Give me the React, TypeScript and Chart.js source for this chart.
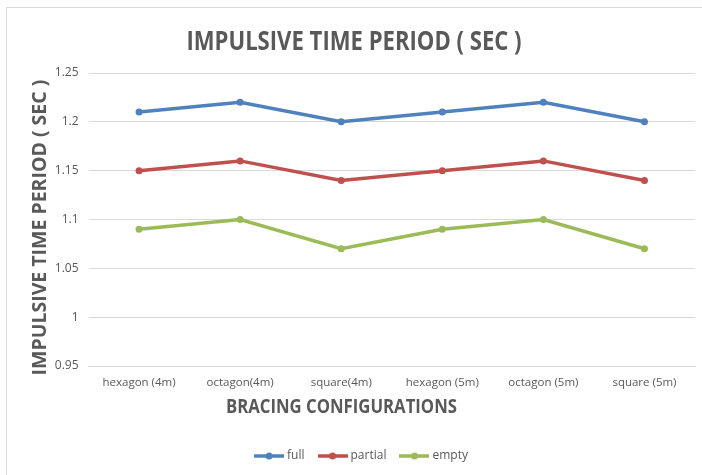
import React, { useEffect, useRef } from "react";
import { Chart, registerables } from "chart.js";

Chart.register(...registerables);

const categories = ["hexagon (4m)", "octagon(4m)", "square(4m)", "hexagon (5m)", "octagon (5m)", "square (5m)"];
const fullValues = [1.21, 1.22, 1.2, 1.21, 1.22, 1.2];
const partialValues = [1.15, 1.16, 1.14, 1.15, 1.16, 1.14];
const emptyValues = [1.09, 1.1, 1.07, 1.09, 1.1, 1.07];
const seriesNames = ["full", "partial", "empty"];
const seriesColors = ["#4F81BD", "#C0504D", "#9BBB59"];
const chartTitle = "IMPULSIVE TIME PERIOD ( SEC )";
const xTitle = "BRACING CONFIGURATIONS";
const yTitle = "IMPULSIVE TIME PERIOD ( SEC )";

const FONT = "'Open Sans', sans-serif";
const GREY = "#595959";

function legendIcon(color: string) {
  const c = document.createElement("canvas");
  c.width = 30;
  c.height = 10;
  const ctx = c.getContext("2d")!;
  ctx.strokeStyle = color;
  ctx.lineWidth = 3.5;
  ctx.beginPath();
  ctx.moveTo(0, 5);
  ctx.lineTo(30, 5);
  ctx.stroke();
  ctx.fillStyle = color;
  ctx.beginPath();
  ctx.arc(15, 5, 3.5, 0, Math.PI * 2);
  ctx.fill();
  return c;
}

const titlesPlugin = {
  id: "customTitles",
  afterDraw(chart: any) {
    const ctx = chart.ctx;
    const area = chart.chartArea;
    ctx.save();
    ctx.fillStyle = GREY;
    ctx.textAlign = "center";
    ctx.textBaseline = "alphabetic";
    // main title
    ctx.save();
    ctx.translate(354, 50);
    ctx.scale(0.85, 1);
    ctx.font = `bold 26px ${FONT}`;
    ctx.fillText(chartTitle, 0, 0);
    ctx.restore();
    // x axis title
    ctx.save();
    ctx.translate(341.5, area.bottom + 47);
    ctx.scale(0.88, 1);
    ctx.font = `bold 19px ${FONT}`;
    ctx.fillText(xTitle, 0, 0);
    ctx.restore();
    // y axis title
    ctx.save();
    ctx.translate(45.5, (area.top + area.bottom) / 2 + 8);
    ctx.rotate(-Math.PI / 2);
    ctx.font = `bold 19.5px ${FONT}`;
    ctx.fillText(yTitle, 0, 0);
    ctx.restore();
    ctx.restore();
  },
};

export default function App() {
  const ref = useRef<HTMLCanvasElement>(null);
  useEffect(() => {
    document.body.style.margin = "0";
    const values = [fullValues, partialValues, emptyValues];
    const chart = new Chart(ref.current!, {
      type: "line",
      data: {
        labels: categories,
        datasets: seriesNames.map((n, i) => ({
          label: n,
          data: values[i],
          borderColor: seriesColors[i],
          backgroundColor: seriesColors[i],
          borderWidth: 3.5,
          pointRadius: 3.5,
          pointBorderWidth: 0,
          tension: 0,
        })),
      },
      plugins: [titlesPlugin],
      options: {
        animation: false,
        responsive: false,
        layout: { padding: { left: 30, right: 7, top: 73, bottom: 3 } },
        plugins: {
          title: { display: false },
          legend: {
            position: "bottom",
            labels: {
              color: GREY,
              font: { family: FONT, size: 12 },
              usePointStyle: true,
              pointStyleWidth: 24,
              padding: 16,
              generateLabels: (ch: any) =>
                ch.data.datasets.map((d: any, i: number) => ({
                  text: d.label,
                  fillStyle: seriesColors[i],
                  strokeStyle: seriesColors[i],
                  fontColor: GREY,
                  pointStyle: legendIcon(seriesColors[i]),
                  datasetIndex: i,
                  hidden: false,
                  lineWidth: 0,
                })),
            },
          },
          tooltip: { enabled: false },
        },
        scales: {
          x: {
            offset: true,
            grid: { display: false, drawTicks: false },
            border: { display: true, color: "#d9d9d9", width: 1 },
            ticks: { color: GREY, font: { family: FONT, size: 11.5 }, padding: 10, maxRotation: 0 },
            afterFit: (s: any) => {
              s.height = 68;
            },
          },
          y: {
            min: 0.95,
            max: 1.25,
            afterFit: (s: any) => {
              s.width = 58.5;
            },
            grid: { color: "#d9d9d9", drawTicks: false },
            border: { display: false },
            ticks: {
              stepSize: 0.05,
              color: GREY,
              font: { family: FONT, size: 12 },
              padding: 10,
              callback: (v: any) => String(Math.round(Number(v) * 100) / 100),
            },
          },
        },
      },
    });
    return () => chart.destroy();
  }, []);
  return (
    <div style={{ position: "relative", width: 702, height: 475, background: "#fff" }}>
      <canvas ref={ref} width={702} height={475} style={{ display: "block" }} />
      <div
        style={{
          position: "absolute",
          left: 6,
          top: 7,
          width: 710,
          height: 480,
          borderTop: "1px solid #d9d9d9",
          borderLeft: "1px solid #d9d9d9",
          pointerEvents: "none",
        }}
      />
    </div>
  );
}
